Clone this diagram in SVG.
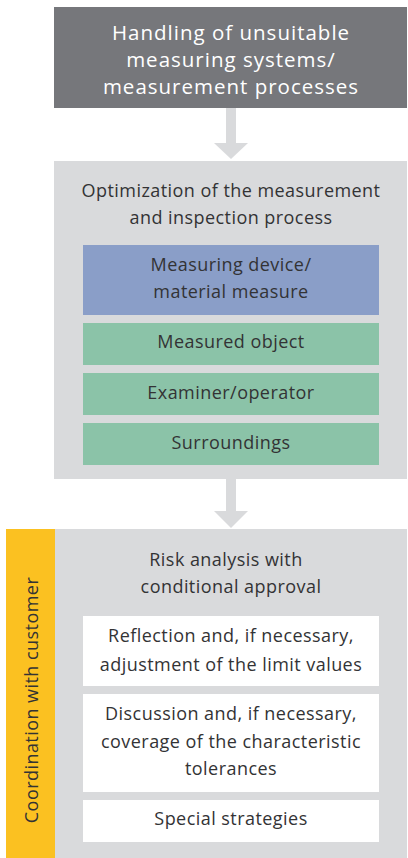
<svg xmlns="http://www.w3.org/2000/svg" width="408" height="858" viewBox="0 0 408 858">
<style>
text{font-family:"Open Sans","Liberation Sans",sans-serif;text-anchor:middle;fill:#333335}
.t{font-size:20.5px;letter-spacing:1px;fill:#ffffff}
.s{font-size:18px;letter-spacing:0.45px}
.panel{fill:#d9dadc}
.blue{fill:#8a9ec8}
.green{fill:#8bc3a8}
.white{fill:#ffffff}
.arrow{fill:#d9dadc}
</style>
<rect width="408" height="858" fill="#ffffff"/>
<g id="connectors">
<polygon class="arrow" points="226,108 236,108 236,143 248,143 231,159 214,143 226,143"/>
<polygon class="arrow" points="226,478 236,478 236,511 248,511 231,528 214,511 226,511"/>
</g>
<g id="n-handling">
<rect x="54" y="7" width="353" height="101" fill="#76777b"/>
<text class="t" x="231" y="40">Handling of unsuitable</text>
<text class="t" x="231" y="67">measuring systems/</text>
<text class="t" x="231" y="94">measurement processes</text>
</g>
<g id="n-optimization">
<rect class="panel" x="54" y="161" width="353" height="318"/>
<text class="s" x="231" y="197">Optimization of the measurement</text>
<text class="s" x="231" y="224">and inspection process</text>
</g>
<g id="n-device">
<rect class="blue" x="83" y="245" width="296" height="70"/>
<text class="s" x="231" y="271">Measuring device/</text>
<text class="s" x="231" y="298">material measure</text>
</g>
<g id="n-object">
<rect class="green" x="83" y="323" width="296" height="42"/>
<text class="s" x="231" y="348">Measured object</text>
</g>
<g id="n-examiner">
<rect class="green" x="83" y="373" width="296" height="42"/>
<text class="s" x="231" y="399">Examiner/operator</text>
</g>
<g id="n-surroundings">
<rect class="green" x="83" y="423" width="296" height="42"/>
<text class="s" x="231" y="449">Surroundings</text>
</g>
<g id="n-coordination">
<rect x="6" y="529" width="49" height="329" fill="#fbc121"/>
<text class="s" transform="translate(38,700) rotate(-90)" x="0" y="0">Coordination with customer</text>
</g>
<g id="n-risk">
<rect class="panel" x="55" y="529" width="352" height="329"/>
<text class="s" x="226" y="566">Risk analysis with</text>
<text class="s" x="231" y="593">conditional approval</text>
</g>
<g id="n-reflection">
<rect class="white" x="83" y="616" width="296" height="70"/>
<text class="s" x="231" y="642">Reflection and, if necessary,</text>
<text class="s" x="231" y="671">adjustment of the limit values</text>
</g>
<g id="n-discussion">
<rect class="white" x="83" y="694" width="296" height="98"/>
<text class="s" x="231" y="720">Discussion and, if necessary,</text>
<text class="s" x="231" y="748">coverage of the characteristic</text>
<text class="s" x="231" y="775">tolerances</text>
</g>
<g id="n-special">
<rect class="white" x="83" y="800" width="296" height="42"/>
<text class="s" x="231" y="825">Special strategies</text>
</g>
</svg>
